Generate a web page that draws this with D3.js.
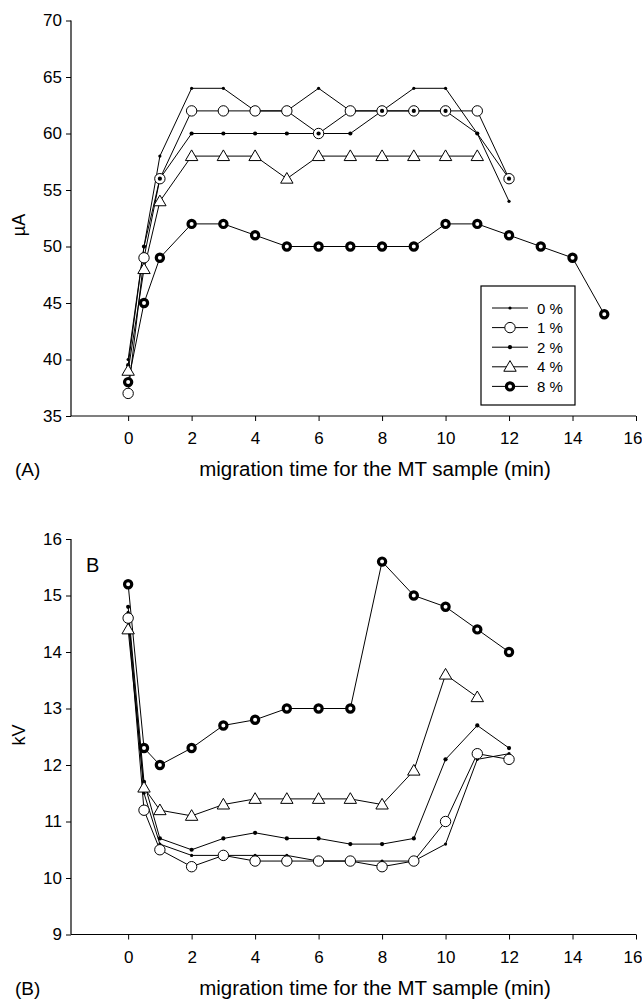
<!DOCTYPE html>
<html><head><meta charset="utf-8">
<script src="https://cdn.jsdelivr.net/npm/d3@7"></script>
<style>body{margin:0;background:#fff}svg{display:block}text{font-family:"Liberation Sans",Arial,sans-serif;fill:#000}</style>
</head><body><svg id="c" width="642" height="1000"></svg>
<script>
// ---- data ----
const seriesNames = ["0 %","1 %","2 %","4 %","8 %"];
const xTicks = [0,2,4,6,8,10,12,14,16];
const yTicksA = [35,40,45,50,55,60,65,70];
const yTicksB = [9,10,11,12,13,14,15,16];
// Panel A (µA)
const timeA = [0,0.5,1,2,3,4,5,6,7,8,9,10,11,12,13,14,15];
const a0 = [40,50,58,64,64,62,62,64,62,62,64,64,60,54];
const a1 = [37,49,56,62,62,62,62,60,62,62,62,62,62,56];
const a2 = [39.5,50,56,60,60,60,60,60,60,62,62,62,60,56];
const a4 = [39,48,54,58,58,58,56,58,58,58,58,58,58];
const a8 = [38,45,49,52,52,51,50,50,50,50,50,52,52,51,50,49,44];
// Panel B (kV)
const timeB = [0,0.5,1,2,3,4,5,6,7,8,9,10,11,12];
const b0 = [14.7,11.5,10.6,10.4,10.4,10.4,10.4,10.3,10.3,10.3,10.3,10.6,12.1,12.2];
const b1 = [14.6,11.2,10.5,10.2,10.4,10.3,10.3,10.3,10.3,10.2,10.3,11.0,12.2,12.1];
const b2 = [14.8,11.7,10.7,10.5,10.7,10.8,10.7,10.7,10.6,10.6,10.7,12.1,12.7,12.3];
const b4 = [14.4,11.6,11.2,11.1,11.3,11.4,11.4,11.4,11.4,11.3,11.9,13.6,13.2];
const b8 = [15.2,12.3,12.0,12.3,12.7,12.8,13.0,13.0,13.0,15.6,15.0,14.8,14.4,14.0];

const svg = d3.select("#c");
const x = d3.scaleLinear().domain([-1.8,16]).range([71,636]);

function marker(g, type, cx, cy){
  if(type===0){ g.append("circle").attr("cx",cx).attr("cy",cy).attr("r",1.6).attr("fill","#000"); }
  else if(type===1){ g.append("circle").attr("cx",cx).attr("cy",cy).attr("r",5.2).attr("fill","#fff").attr("stroke","#000").attr("stroke-width",1); }
  else if(type===2){ g.append("circle").attr("cx",cx).attr("cy",cy).attr("r",2.1).attr("fill","#000"); }
  else if(type===3){ const s=6.2; g.append("path").attr("d",`M${cx},${cy-s}L${cx+s*1.0},${cy+s*0.72}L${cx-s*1.0},${cy+s*0.72}Z`).attr("fill","#fff").attr("stroke","#000").attr("stroke-width",1); }
  else { g.append("circle").attr("cx",cx).attr("cy",cy).attr("r",3.6).attr("fill","#fff").attr("stroke","#000").attr("stroke-width",3.2); }
}

function panel(y, yTicks, times, data, opts){
  const g = svg.append("g");
  const ax = g.append("g").attr("transform",`translate(0,${y.range()[0]})`)
    .call(d3.axisBottom(x).tickValues(xTicks).tickSize(5).tickPadding(11).tickFormat(d3.format("d")));
  const ay = g.append("g").attr("transform",`translate(${x.range()[0]},0)`)
    .call(d3.axisLeft(y).tickValues(yTicks).tickSize(5).tickPadding(4).tickFormat(d3.format("d")));
  [ax,ay].forEach(a=>{a.select(".domain").attr("stroke","#000").attr("stroke-width",1.2);
    a.selectAll(".tick line").attr("stroke","#000").attr("stroke-width",1);
    a.selectAll(".tick text").style("font-size","17px").attr("fill","#000");});
  ax.selectAll(".tick text").filter(d=>d===16).attr("text-anchor","end").attr("x",6);
  ax.select(".domain").attr("d",`M${x.range()[0]},0H${x.range()[1]}`);
  ay.select(".domain").attr("d",`M0,${y.range()[0]}V${y.range()[1]}`);
  const line = d3.line().x(d=>x(d[0])).y(d=>y(d[1]));
  data.forEach((vals,i)=>{
    const pts = vals.map((v,j)=>[times[j],v]);
    g.append("path").attr("d",line(pts)).attr("fill","none").attr("stroke","#000").attr("stroke-width",1);
  });
  data.forEach((vals,i)=>{
    const mg = g.append("g");
    vals.forEach((v,j)=>marker(mg,i,x(times[j]),y(v)));
  });
  g.append("text").attr("transform",`translate(25,${opts.ymid}) rotate(-90)`).attr("text-anchor","middle").style("font-size","18px").text(opts.ylab);
  g.append("text").attr("x",375).attr("y",y.range()[0]+60).attr("text-anchor","middle").style("font-size","20.5px").text("migration time for the MT sample (min)");
  g.append("text").attr("x",15).attr("y",y.range()[0]+60).style("font-size","19px").text(opts.tag);
  return g;
}

const yA = d3.scaleLinear().domain([35,70]).range([416,20.5]);
const yB = d3.scaleLinear().domain([9,16]).range([934.5,539]);
panel(yA, yTicksA, timeA, [a0,a1,a2,a4,a8], {ylab:"µA", tag:"(A)", ymid:225});
const gB = panel(yB, yTicksB, timeB, [b0,b1,b2,b4,b8], {ylab:"kV", tag:"(B)", ymid:735});
gB.append("text").attr("x",86).attr("y",572).style("font-size","20px").text("B");

// legend
const lg = svg.append("g");
lg.append("rect").attr("x",481).attr("y",286).attr("width",94).attr("height",119).attr("fill","#fff").attr("stroke","#000").attr("stroke-width",1.2);
seriesNames.forEach((n,i)=>{
  const yy = 308 + i*19.6;
  lg.append("line").attr("x1",492).attr("x2",528).attr("y1",yy).attr("y2",yy).attr("stroke","#000").attr("stroke-width",1);
  marker(lg,i,510,yy);
  lg.append("text").attr("x",537).attr("y",yy+5.5).style("font-size","15px").text(n);
});
</script></body></html>
